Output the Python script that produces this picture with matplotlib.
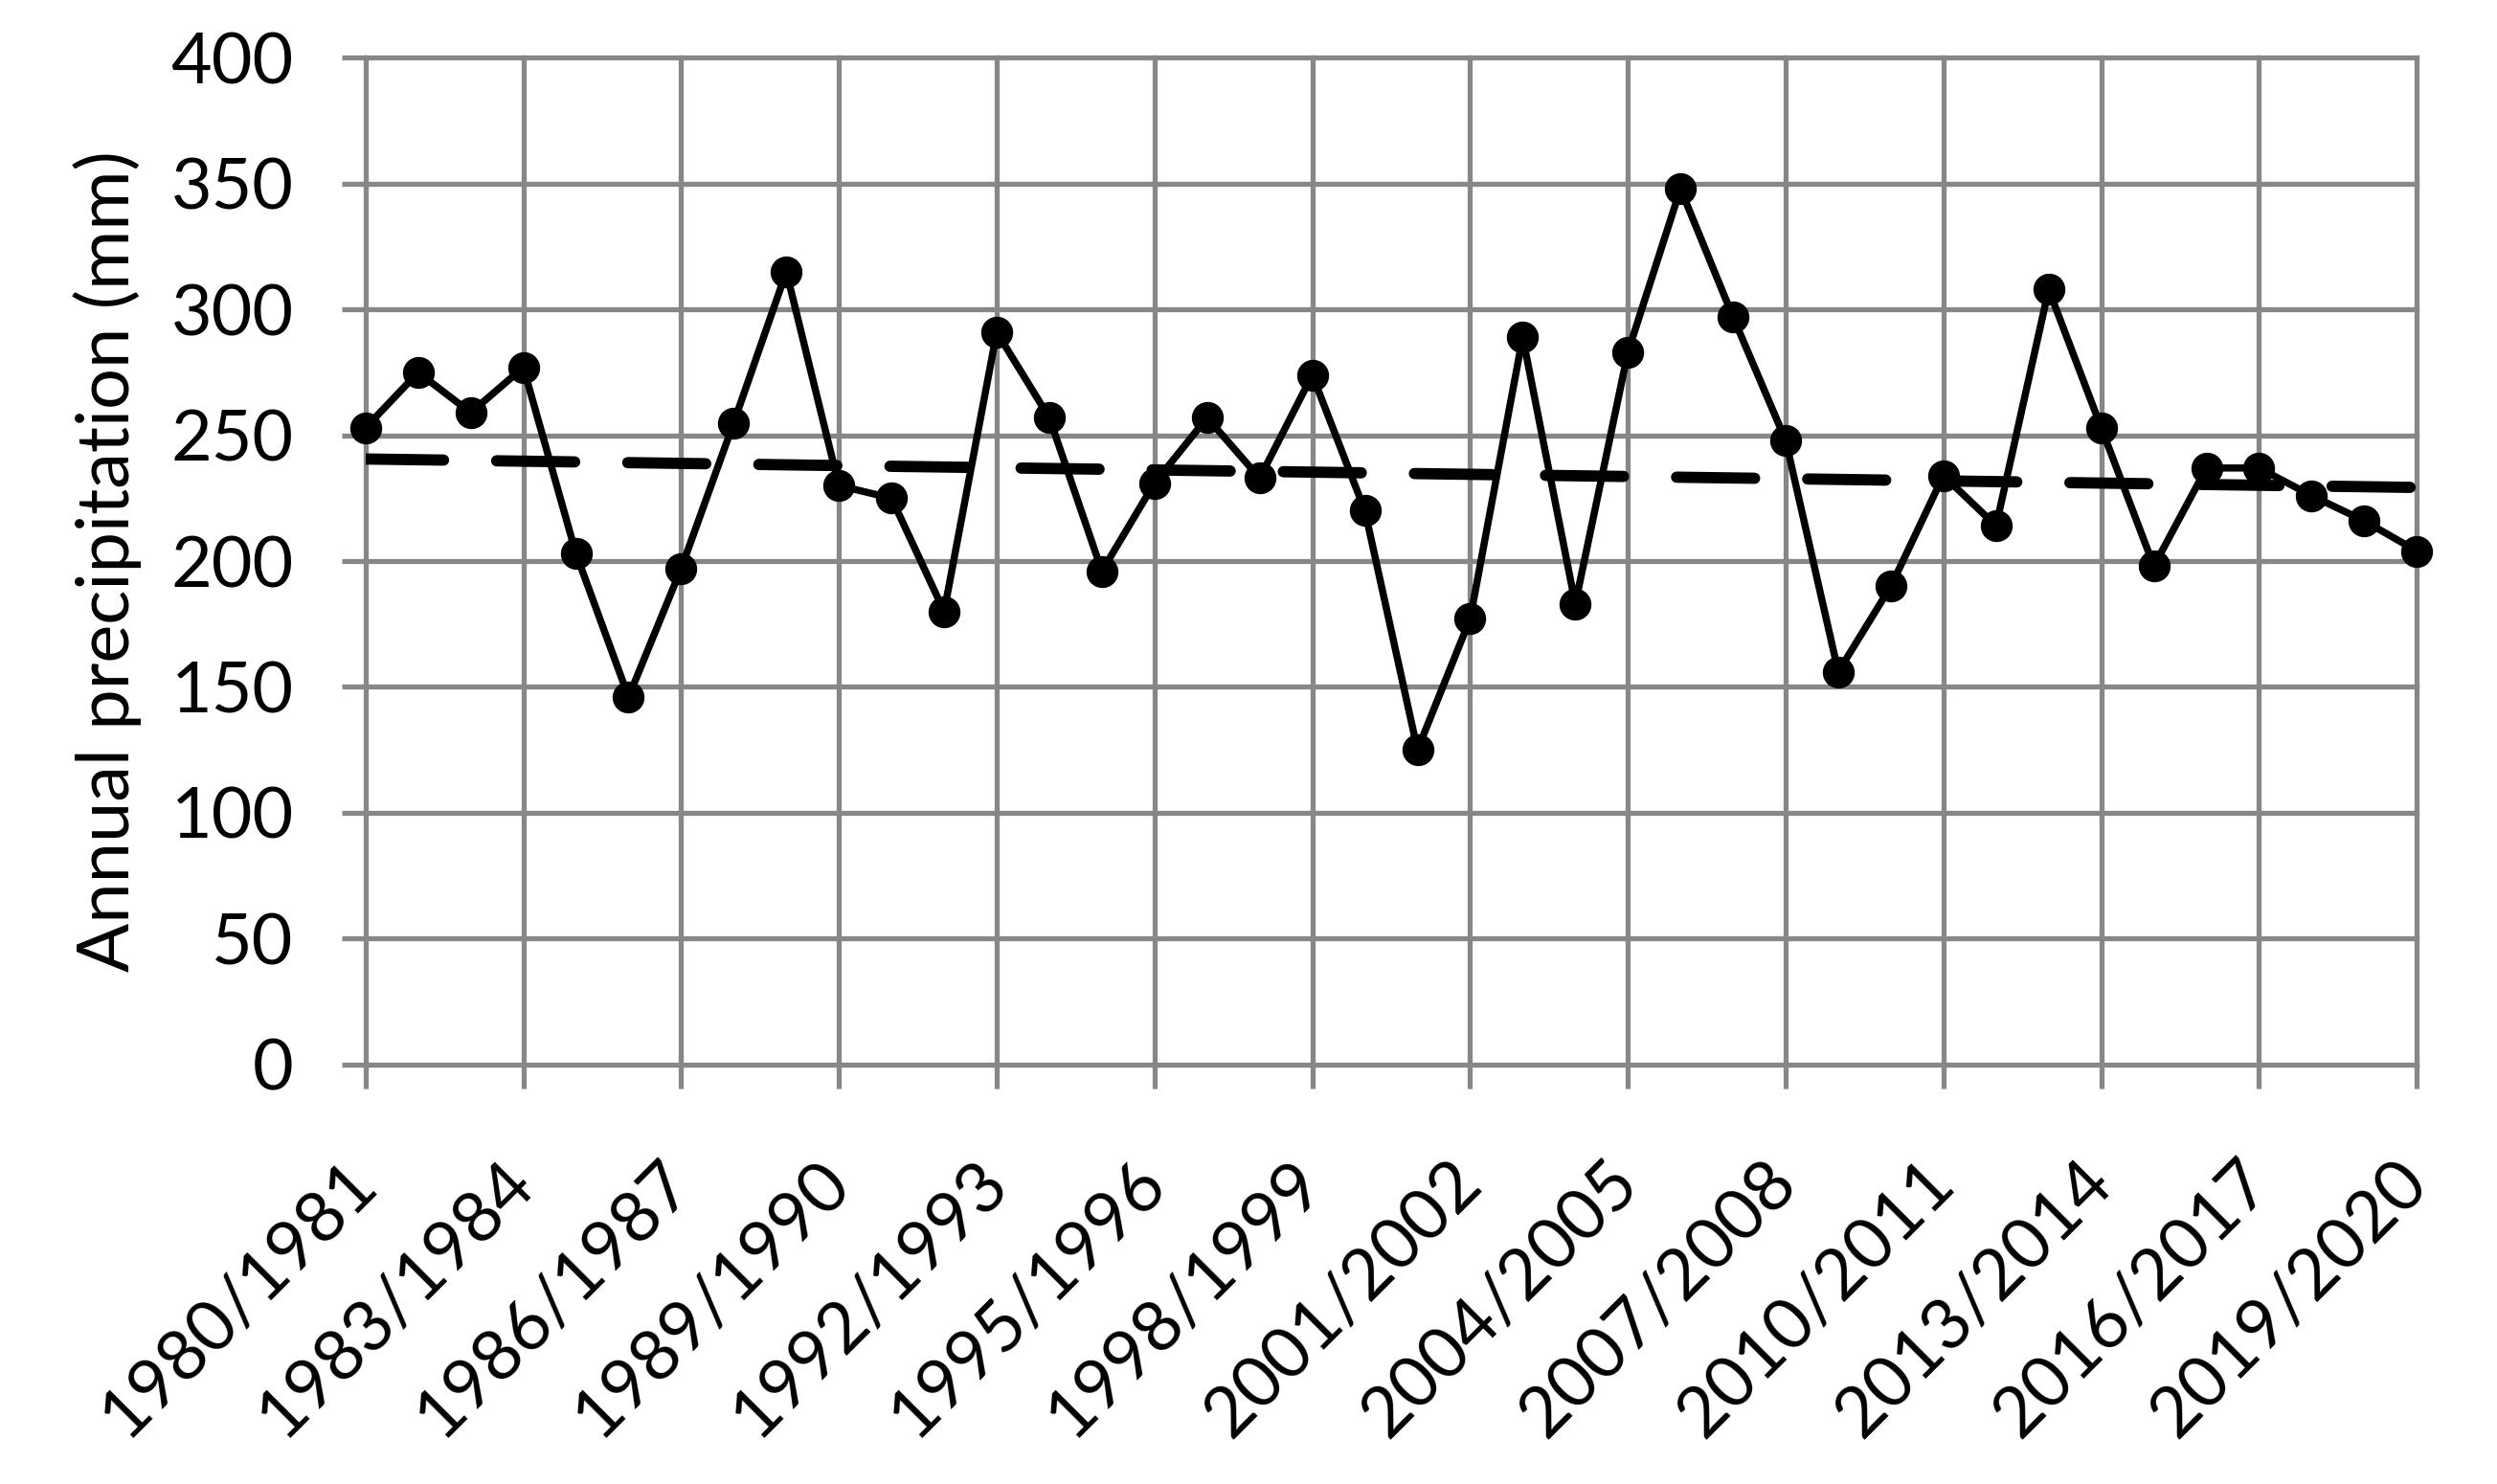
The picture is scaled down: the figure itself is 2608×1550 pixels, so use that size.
import numpy as np
import matplotlib
matplotlib.use("Agg")
import matplotlib.pyplot as plt

seasonIndex = list(range(40))
precipitation = [253, 275, 259, 277, 203, 146, 197, 255, 315, 230,
                 225, 180, 291, 257, 196, 231, 257, 233, 274, 220,
                 125, 177, 289, 183, 283, 348, 297, 248, 156, 190,
                 234, 214, 308, 253, 198, 237, 237, 226, 216, 204]
tickPositions = [0, 3, 6, 9, 12, 15, 18, 21, 24, 27, 30, 33, 36, 39]
tickLabels = ["1980/1981", "1983/1984", "1986/1987", "1989/1990", "1992/1993",
              "1995/1996", "1998/1999", "2001/2002", "2004/2005", "2007/2008",
              "2010/2011", "2013/2014", "2016/2017", "2019/2020"]
yTicks = [0, 50, 100, 150, 200, 250, 300, 350, 400]

plt.rcParams['font.family'] = ['Lato', 'DejaVu Sans']
gridGray = "#878787"

fig = plt.figure(figsize=(26.08, 15.5), dpi=100)
ax = fig.add_axes([0.1464, 0.2828, 0.8215, 0.6782])

# linear trend like the spreadsheet trendline
slope, intercept = np.polyfit(seasonIndex, precipitation, 1)
trend = [slope * i + intercept for i in seasonIndex]

ax.plot(seasonIndex, precipitation, color="black", linewidth=5.4,
        marker="o", markersize=23, clip_on=False, zorder=3)
trendLine, = ax.plot(seasonIndex, trend, color="black", linewidth=8.5,
                     dash_capstyle="round", zorder=4)
trendLine.set_dashes((6.9, 4.7))

ax.set_xlim(0, 39)
ax.set_ylim(0, 400)
ax.set_xticks(tickPositions)
ax.set_xticklabels(tickLabels, rotation=45, ha="right", va="center",
                   rotation_mode="anchor")
ax.set_yticks(yTicks)

ax.grid(True, color=gridGray, linewidth=3.8)
ax.set_axisbelow(True)
for line in ax.get_xgridlines() + ax.get_ygridlines():
  line.set_clip_on(False)

for spine in ax.spines.values():
  spine.set_visible(False)

ax.tick_params(axis="both", direction="out", length=18, width=3.8,
               color=gridGray, labelsize=53, labelcolor="black")
ax.tick_params(axis="x", pad=63)
ax.tick_params(axis="y", pad=36)

ax.set_ylabel("Annual precipitation (mm)", fontsize=54.5)
ax.yaxis.set_label_coords(-0.109, 0.5)

fig.savefig("out.png", dpi=100)
